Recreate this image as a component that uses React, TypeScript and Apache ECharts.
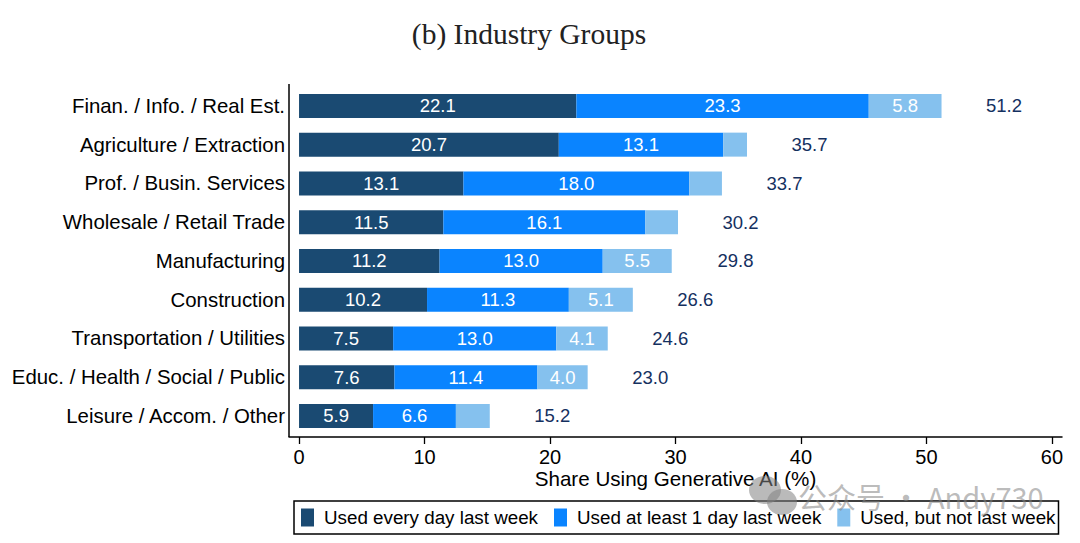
import React, { useEffect, useRef } from "react";
import * as echarts from "echarts";

const categories = [
  "Finan. / Info. / Real Est.",
  "Agriculture / Extraction",
  "Prof. / Busin. Services",
  "Wholesale / Retail Trade",
  "Manufacturing",
  "Construction",
  "Transportation / Utilities",
  "Educ. / Health / Social / Public",
  "Leisure / Accom. / Other",
];
const everyDay = [22.1, 20.7, 13.1, 11.5, 11.2, 10.2, 7.5, 7.6, 5.9];
const atLeastOne = [23.3, 13.1, 18.0, 16.1, 13.0, 11.3, 13.0, 11.4, 6.6];
const notLastWeek = [5.8, 1.9, 2.6, 2.6, 5.5, 5.1, 4.1, 4.0, 2.7];
const totals = [51.2, 35.7, 33.7, 30.2, 29.8, 26.6, 24.6, 23.0, 15.2];
const xTicks = [0, 10, 20, 30, 40, 50, 60];
const names = ["Used every day last week", "Used at least 1 day last week", "Used, but not last week"];
const FONT = "Liberation Sans";

export default function App() {
  const ref = useRef<HTMLDivElement>(null);
  useEffect(() => {
    const chart = echarts.init(ref.current!, undefined, { renderer: "svg" });
    const barLabel = { show: true, position: "inside", color: "#fff", fontSize: 18.5, fontFamily: FONT, formatter: (p: any) => p.value.toFixed(1) };
    chart.setOption({
      animation: false,
      backgroundColor: "#fff",
      title: {
        text: "(b) Industry Groups", left: 524, top: 14, textAlign: "center",
        textStyle: { fontFamily: "Liberation Serif", fontWeight: "normal", fontSize: 29.5, color: "#222" },
      },
      grid: { left: 289, width: 773, top: 86.5, height: 348.8 },
      xAxis: {
        type: "value", min: -0.8, max: 60.8, offset: 1.7, splitLine: { show: false },
        axisLine: { show: true, lineStyle: { color: "#000", width: 1.5 } },
        axisTick: { show: true, customValues: xTicks, length: 7, lineStyle: { color: "#000", width: 1.3 } },
        axisLabel: { show: true, customValues: xTicks, color: "#000", fontSize: 20, fontFamily: FONT, margin: 10, formatter: (v: number) => String(v) },
        name: "Share Using Generative AI (%)", nameLocation: "middle", nameGap: 31, nameMoveOverlap: false,
        nameTextStyle: { color: "#000", fontSize: 20.6, fontFamily: FONT },
      },
      yAxis: {
        type: "category", inverse: true, data: categories,
        axisLine: { show: false }, axisTick: { show: false },
        axisLabel: { color: "#000", fontSize: 20.4, fontFamily: FONT, margin: 4 },
      },
      legend: {
        data: names, left: 294, top: 501, orient: "horizontal", icon: "rect",
        itemWidth: 13, itemHeight: 18, itemGap: 16, padding: [7, 3, 7, 7],
        borderColor: "#000", borderWidth: 1.5, selectedMode: false,
        textStyle: { color: "#000", fontSize: 18.8, fontFamily: FONT, padding: [0, 0, 0, 5] },
      },
      series: [
        { name: names[0], type: "bar", stack: "s", barWidth: 24, data: everyDay, itemStyle: { color: "#1a4a72" }, label: barLabel },
        { name: names[1], type: "bar", stack: "s", barWidth: 24, data: atLeastOne, itemStyle: { color: "#0a84ff" }, label: barLabel },
        {
          name: names[2], type: "bar", stack: "s", barWidth: 24, itemStyle: { color: "#85c1ee" },
          data: notLastWeek.map((v) => ({ value: v, label: { ...barLabel, show: v >= 4 } })),
        },
        {
          name: "Total", type: "scatter", symbolSize: 0, itemStyle: { opacity: 1 },
          data: totals.map((t, i) => [t, i]),
          label: { show: true, position: "right", distance: 44.5, opacity: 1, color: "#14305f", fontSize: 18.5, fontFamily: FONT, formatter: (p: any) => p.value[0].toFixed(1) },
        },
      ],
      graphic: [
        { type: "line", z: 10, shape: { x1: 289, y1: 84, x2: 289, y2: 437 }, style: { stroke: "#000", lineWidth: 1.5 } },
        { type: "ellipse", z: 20, shape: { cx: 765, cy: 490, rx: 16, ry: 14 }, style: { fill: "rgba(130,130,130,0.55)" } },
        { type: "ellipse", z: 21, shape: { cx: 782, cy: 502, rx: 15, ry: 13 }, style: { fill: "rgba(130,130,130,0.55)" } },
        { type: "text", z: 20, x: 798, y: 481, style: { text: "公众号 · Andy730", fontFamily: "Noto Sans CJK SC", fontSize: 29, fill: "rgba(130,130,130,0.55)" } },
      ],
    });
    return () => chart.dispose();
  }, []);
  return <div ref={ref} style={{ width: 1080, height: 543, position: "absolute", left: 0, top: 0 }} />;
}
